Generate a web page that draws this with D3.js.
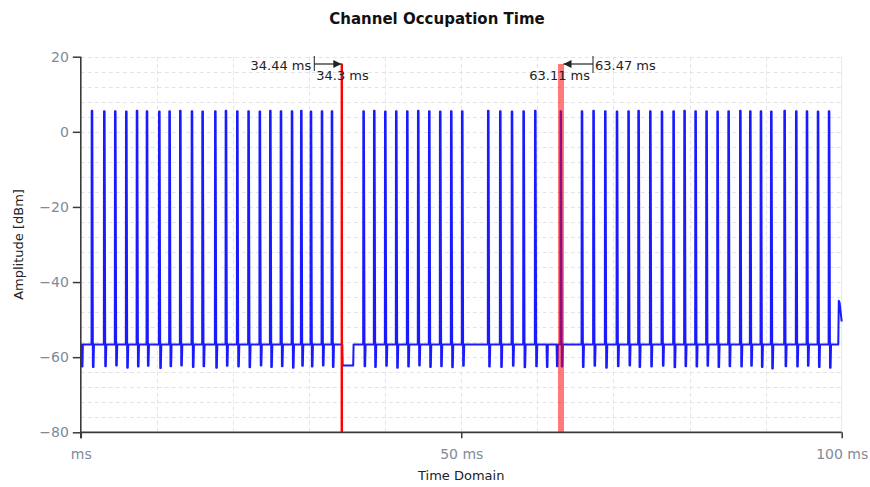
<!DOCTYPE html>
<html>
<head>
<meta charset="utf-8">
<script src="https://cdn.jsdelivr.net/npm/d3@7"></script>
<style>
  html, body { margin: 0; padding: 0; background: #fff; }
  svg { display: block; font-family: "DejaVu Sans", sans-serif; }
</style>
</head>
<body>
<svg id="chart" width="870" height="487"></svg>
<script>
// ---- data ----
const titleText = "Channel Occupation Time";
const xTitle = "Time Domain";
const yTitle = "Amplitude [dBm]";

const xTicks = [0, 50, 100];
const xTickLabels = ["ms", "50 ms", "100 ms"];
const yTicks = [20, 0, -20, -40, -60, -80];

// burst start times (ms) and their peak level (dBm)
const pulseTimes = [
  1.43, 3.05, 4.49, 5.94, 7.35, 8.66, 10.28, 11.63, 13.04, 14.57, 15.97, 17.64,
  19.04, 20.53, 22.01, 23.49, 24.87, 26.27, 27.72, 28.94, 30.21, 31.66, 32.97,
  37.13, 38.53, 39.98, 41.42, 42.87, 44.31, 45.76, 47.20, 48.65, 50.09,
  53.51, 55.09, 56.63, 58.16, 59.69, 63.05,
  65.83, 67.35, 68.89, 70.43, 71.95, 73.27, 74.81, 76.34, 77.87, 79.31, 80.76,
  82.20, 83.65, 85.10, 86.64, 87.95, 89.35, 90.71, 92.46, 93.99, 95.40, 96.85, 98.30
];
const pulsePeaks = [
  5.6, 5.5, 5.5, 5.4, 5.6, 5.5, 5.4, 5.5, 5.6, 5.5, 5.4, 5.5,
  5.6, 5.5, 5.5, 5.4, 5.6, 5.5, 5.5, 5.6, 5.4, 5.5, 5.5,
  5.5, 5.6, 5.4, 5.5, 5.5, 5.6, 5.5, 5.4, 5.5, 5.5,
  5.6, 5.5, 5.4, 5.5, 5.6, 5.5,
  5.5, 5.6, 5.5, 5.4, 5.5, 5.6, 5.5, 5.4, 5.5, 5.6, 5.5,
  5.5, 5.4, 5.5, 5.6, 5.5, 5.5, 5.4, 5.6, 5.5, 5.5, 5.4, 5.5
];
// trough reached right after each burst (dBm)
const pulseDips = [
  -62.6, -62.4, -62.2, -62.8, -62.5, -62.3, -62.9, -62.4, -62.2, -62.6, -62.4, -62.8,
  -62.3, -62.5, -62.7, -62.2, -62.6, -62.4, -62.8, -62.3, -62.5, -62.2, -62.6,
  -62.4, -62.6, -62.3, -62.8, -62.5, -62.2, -62.6, -62.4, -62.7, -62.3,
  -62.5, -62.6, -62.3, -62.7, -62.4, -62.5,
  -62.6, -62.3, -62.8, -62.4, -62.2, -62.6, -62.5, -62.3, -62.7, -62.4, -62.5,
  -62.3, -62.6, -62.4, -62.5, -62.3, -62.6, -63.0, -62.4, -62.5, -62.3, -62.6, -62.8
];
// troughs without a burst (ms, dBm)
const extraDipTimes = [0.12, 61.23, 62.55];
const extraDipLevels = [-62.5, -62.6, -62.4];

const noiseFloor = -56.6;
const gapStart = 34.36, gapEnd = 35.80, gapLevel = -62.2;
const tailTimes = [99.55, 99.62, 99.72, 100];
const tailLevels = [-56.6, -45.0, -45.4, -50.5];

// cursor markers
const markerA = 34.3, markerADelta = 34.44;
const markerB = 63.11, markerBDelta = 63.47;

// ---- trace assembly ----
const events = [];
pulseTimes.forEach((t, i) => events.push({ t, peak: pulsePeaks[i], dip: pulseDips[i] }));
extraDipTimes.forEach((t, i) => events.push({ t, peak: null, dip: extraDipLevels[i] }));
events.sort((a, b) => a.t - b.t);

const trace = [[0, noiseFloor]];
events.forEach(e => {
  if (e.peak !== null) {
    trace.push([e.t - 0.02, noiseFloor], [e.t, e.peak], [e.t + 0.08, e.peak],
               [e.t + 0.16, e.dip], [e.t + 0.24, e.dip], [e.t + 0.3, noiseFloor]);
  } else {
    trace.push([e.t - 0.02, noiseFloor], [e.t + 0.03, e.dip], [e.t + 0.1, e.dip], [e.t + 0.15, noiseFloor]);
  }
  if (e.t < gapStart && (events.find(n => n.t > e.t) || {}).t > gapStart) {
    trace.push([gapStart, noiseFloor], [gapStart + 0.05, gapLevel], [gapEnd, gapLevel], [gapEnd + 0.05, noiseFloor]);
  }
});
tailTimes.forEach((t, i) => trace.push([t, tailLevels[i]]));

// ---- layout ----
const svg = d3.select("#chart");
const plot = { left: 80.8, right: 841.7, top: 56.7, bottom: 432.3 };

const x = d3.scaleLinear().domain([0, 100]).range([plot.left, plot.right]);
const y = d3.scaleLinear().domain([-80, 20]).range([plot.bottom, plot.top]);

// grid
const grid = svg.append("g").attr("stroke", "#e4e4e4").attr("stroke-width", 1)
  .attr("stroke-dasharray", "4,3").attr("fill", "none");
grid.selectAll("line.h").data(d3.range(-76, 21, 4)).join("line")
  .attr("x1", plot.left).attr("x2", plot.right)
  .attr("y1", d => Math.round(y(d)) + 0.5).attr("y2", d => Math.round(y(d)) + 0.5);
grid.selectAll("line.v").data(d3.range(10, 100, 10)).join("line")
  .attr("y1", plot.top).attr("y2", plot.bottom)
  .attr("x1", d => Math.round(x(d)) + 0.5).attr("x2", d => Math.round(x(d)) + 0.5);
svg.append("line").attr("x1", x(100)).attr("x2", x(100)).attr("y1", plot.top).attr("y2", plot.bottom)
  .attr("stroke", "#e8e8e8");

// trace
const line = d3.line().x(d => x(d[0])).y(d => y(d[1]));
svg.append("path").datum(trace).attr("d", line)
  .attr("fill", "none").attr("stroke", "#1a1aff").attr("stroke-width", 2)
  .attr("stroke-linejoin", "round");

// markers
svg.append("line").attr("x1", x(markerA)).attr("x2", x(markerA))
  .attr("y1", 63.5).attr("y2", plot.bottom)
  .attr("stroke", "#ff0000").attr("stroke-width", 2.4);
svg.append("line").attr("x1", x(markerB)).attr("x2", x(markerB))
  .attr("y1", 64).attr("y2", plot.bottom)
  .attr("stroke", "rgba(255,0,0,0.52)").attr("stroke-width", 6);

// axes
const axisColor = "#3a3a3a";
const tickColor = "#7f8a99";
const yAxis = svg.append("g").attr("transform", `translate(${plot.left},0)`)
  .call(d3.axisLeft(y).tickValues(yTicks).tickSize(8).tickPadding(4).tickFormat(d3.format("d")));
yAxis.select(".domain").remove();
yAxis.selectAll(".tick line").attr("stroke", axisColor).attr("stroke-width", 1.5);
yAxis.selectAll(".tick text").attr("fill", tickColor).attr("font-size", 14)
  .attr("font-family", "DejaVu Sans, sans-serif");

const xAxis = svg.append("g").attr("transform", `translate(0,${plot.bottom})`)
  .call(d3.axisBottom(x).tickValues(xTicks).tickSize(6).tickPadding(11)
    .tickFormat((d, i) => xTickLabels[i]));
xAxis.select(".domain").remove();
xAxis.selectAll(".tick line").attr("stroke", axisColor).attr("stroke-width", 1.5);
xAxis.selectAll(".tick text").attr("fill", tickColor).attr("font-size", 14)
  .attr("font-family", "DejaVu Sans, sans-serif");

svg.append("line").attr("x1", plot.left).attr("x2", plot.left)
  .attr("y1", plot.top).attr("y2", plot.bottom + 6)
  .attr("stroke", axisColor).attr("stroke-width", 1.6);
svg.append("line").attr("x1", plot.left).attr("x2", plot.right)
  .attr("y1", plot.bottom).attr("y2", plot.bottom)
  .attr("stroke", axisColor).attr("stroke-width", 1.8);

// marker annotations
const defs = svg.append("defs");
defs.append("marker").attr("id", "arrow").attr("viewBox", "0 0 10 10")
  .attr("refX", 10).attr("refY", 5).attr("markerWidth", 9).attr("markerHeight", 8)
  .attr("markerUnits", "userSpaceOnUse").attr("orient", "auto")
  .append("path").attr("d", "M0,0 L10,5 L0,10 Z").attr("fill", "#222");

const ann = svg.append("g").attr("font-size", 13).attr("fill", "#222");
function cursorNote(pos, delta, side) {
  const tip = x(pos);
  const bar = side < 0 ? tip - 27.5 : tip + 32;
  const arrowY = 64;
  ann.append("line").attr("x1", bar).attr("x2", bar).attr("y1", 56).attr("y2", side < 0 ? 71 : 73)
    .attr("stroke", "#222").attr("stroke-width", 1);
  ann.append("line").attr("x1", bar).attr("x2", side < 0 ? tip - 0.5 : tip + 2.5)
    .attr("y1", arrowY).attr("y2", arrowY)
    .attr("stroke", "#222").attr("stroke-width", 1.2).attr("marker-end", "url(#arrow)");
  const fmt = v => `${v} ms`;
  if (side < 0) {
    ann.append("text").attr("x", bar - 3).attr("y", 70).attr("text-anchor", "end").text(fmt(delta));
    ann.append("text").attr("x", bar + 2).attr("y", 80).attr("text-anchor", "start").text(fmt(pos));
  } else {
    ann.append("text").attr("x", bar + 2).attr("y", 70).attr("text-anchor", "start").text(fmt(delta));
    ann.append("text").attr("x", bar - 3).attr("y", 80).attr("text-anchor", "end").text(fmt(pos));
  }
}
cursorNote(markerA, markerADelta, -1);
cursorNote(markerB, markerBDelta, 1);

// titles
svg.append("text").attr("x", 437).attr("y", 24).attr("text-anchor", "middle")
  .attr("font-size", 15).attr("font-weight", "bold").attr("fill", "#111").text(titleText);
svg.append("text").attr("x", (plot.left + plot.right) / 2).attr("y", 480).attr("text-anchor", "middle")
  .attr("font-size", 13).attr("fill", "#222").text(xTitle);
svg.append("text").attr("transform", `translate(23,${(plot.top + plot.bottom) / 2}) rotate(-90)`)
  .attr("text-anchor", "middle").attr("font-size", 13).attr("fill", "#222").text(yTitle);
</script>
</body>
</html>
